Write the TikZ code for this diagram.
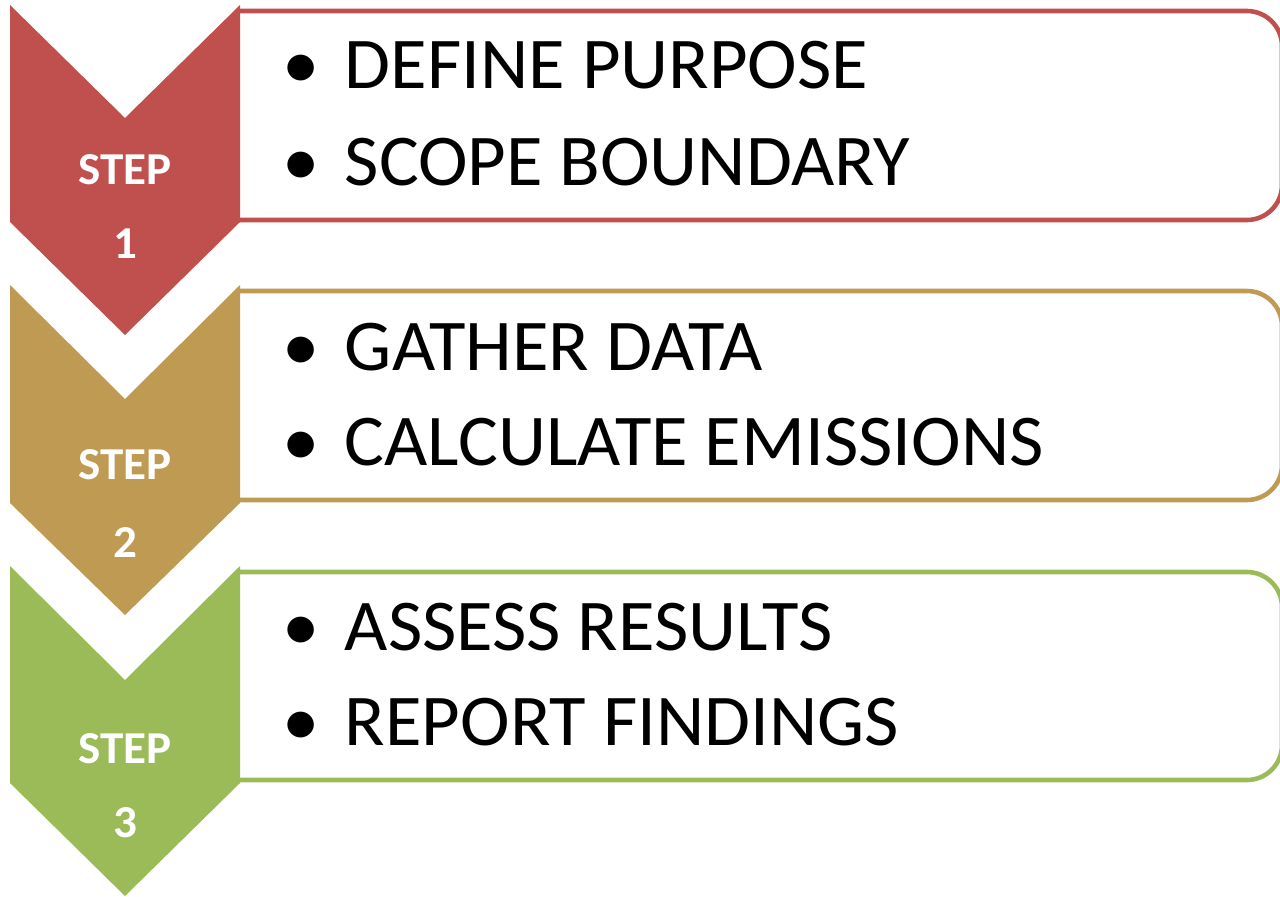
\documentclass[tikz,border=0pt]{standalone}
\usepackage{fontspec}
\setmainfont{Carlito}
\usepackage{tikz}
\usetikzlibrary{positioning}
\definecolor{stepred}{RGB}{192,80,77}
\definecolor{stepgold}{RGB}{191,154,82}
\definecolor{stepgreen}{RGB}{155,187,89}
\tikzset{
  itembox/.style={line width=2.6pt, rounded corners=20, fill=white},
  steplabel/.style={text=white, font=\fontsize{26}{30}\selectfont\bfseries,
    inner sep=0pt, anchor=base, xscale=1.03, transform shape},
  itemtext/.style={anchor=base west, inner sep=0pt,
    font=\fontsize{41.5}{48}\selectfont, xscale=1.025, transform shape},
}
\newcommand{\bul}{\makebox[1.22cm][l]{\textbullet}}

\begin{document}
\begin{tikzpicture}[x=0.02cm, y=-0.02cm]
  \useasboundingbox (0,0) rectangle (1280,896);
  \clip (0,0) rectangle (1280,896);

  % boxes, left corners hidden
  \begin{scope}
    \clip (238,0) rectangle (1290,896);
    \draw[itembox, draw=stepred]   (190,11)  rectangle (1282,220);
    \draw[itembox, draw=stepgold]  (190,291) rectangle (1282,500);
    \draw[itembox, draw=stepgreen] (190,572) rectangle (1282,780);
  \end{scope}

  % step 1
  \fill[stepred] (10,5) -- (125,118) -- (240,5) -- (240,222)
    -- (125,335) -- (10,222) -- cycle;
  \node[steplabel] (s1a) at (125,184) {STEP};
  \node[steplabel] (s1b) at (125,258) {1};
  \node[itemtext] (define) at (282,88) {\bul DEFINE PURPOSE};
  \node[itemtext] (scope)  at (282,185) {\bul SCOPE BOUNDARY};

  % step 2
  \fill[stepgold] (10,285) -- (125,399) -- (240,285) -- (240,503)
    -- (125,615) -- (10,503) -- cycle;
  \node[steplabel] (s2a) at (125,479) {STEP};
  \node[steplabel] (s2b) at (125,557) {2};
  \node[itemtext] (gather) at (282,370) {\bul GATHER DATA};
  \node[itemtext] (calc)   at (282,465) {\bul CALCULATE EMISSIONS};

  % step 3
  \fill[stepgreen] (10,566) -- (125,680) -- (240,566) -- (240,783)
    -- (125,896) -- (10,783) -- cycle;
  \node[steplabel] (s3a) at (125,763) {STEP};
  \node[steplabel] (s3b) at (125,837) {3};
  \node[itemtext] (assess) at (282,650) {\bul ASSESS RESULTS};
  \node[itemtext] (report) at (282,745) {\bul REPORT FINDINGS};
\end{tikzpicture}
\end{document}
